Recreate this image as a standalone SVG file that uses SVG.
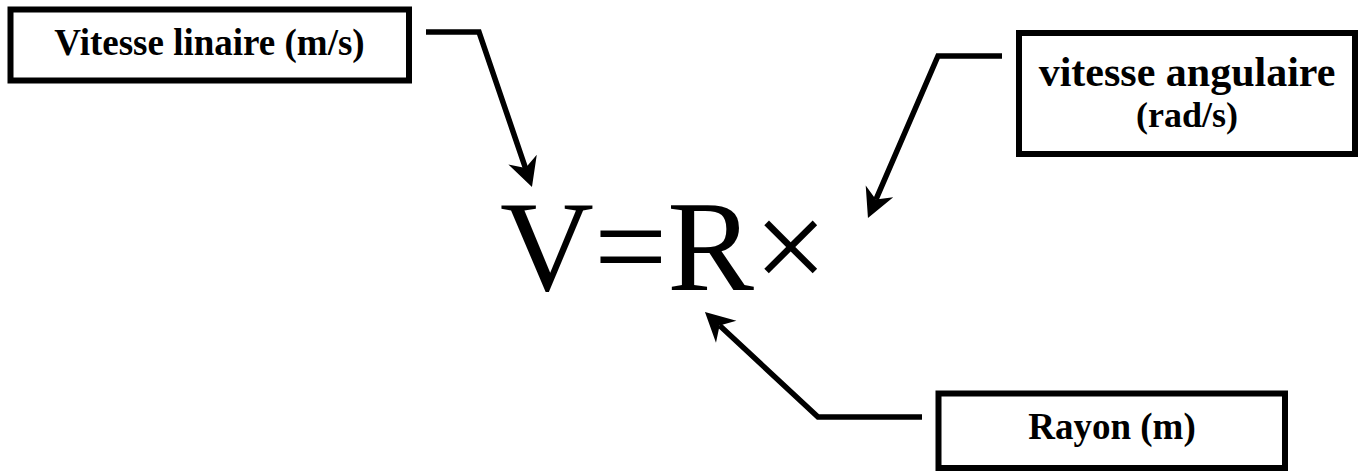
<svg xmlns="http://www.w3.org/2000/svg" width="1365" height="471" viewBox="0 0 1365 471">
<style>
.box{fill:#fff;stroke:#000;stroke-width:6}
.lbl{font-family:"Liberation Serif","Times New Roman",serif;font-weight:bold;fill:#000;text-anchor:middle}
.eq{font-family:"Liberation Serif","Times New Roman",serif;font-size:130px;fill:#000}
.conn{fill:none;stroke:#000;stroke-width:5.5;stroke-linejoin:miter;stroke-linecap:butt}
</style>
<defs>
<marker id="ah" markerUnits="userSpaceOnUse" markerWidth="40" markerHeight="40" viewBox="-15 -20 40 40" refX="0" refY="0" orient="auto">
<path d="M20,0 L-9,-15 L0,0 L-9,15 Z" fill="#000"/>
</marker>
</defs>
<rect width="1365" height="471" fill="#fff"/>
<g id="node-vitesse-lineaire">
<rect class="box" x="10.5" y="9.5" width="398.5" height="71"/>
<text class="lbl" x="209.5" y="55" font-size="37">Vitesse linaire (m/s)</text>
</g>
<g id="node-vitesse-angulaire">
<rect class="box" x="1019" y="33" width="336" height="121"/>
<text class="lbl" x="1187" y="86" font-size="42">vitesse angulaire</text>
<text class="lbl" x="1187" y="127" font-size="36">(rad/s)</text>
</g>
<g id="node-rayon">
<rect class="box" x="938.5" y="393.5" width="346.5" height="74.5"/>
<text class="lbl" x="1112" y="439" font-size="37">Rayon (m)</text>
</g>
<g id="node-equation">
<text class="eq" x="500" y="290">V=R×</text>
</g>
<g id="connectors">
<path class="conn" d="M426,32 L479,32 L525.5,168.1" marker-end="url(#ah)"/>
<path class="conn" d="M1002,56 L938,56 L875.9,199.6" marker-end="url(#ah)"/>
<path class="conn" d="M922,417 L818,417 L719.6,325.6" marker-end="url(#ah)"/>
</g>
</svg>
